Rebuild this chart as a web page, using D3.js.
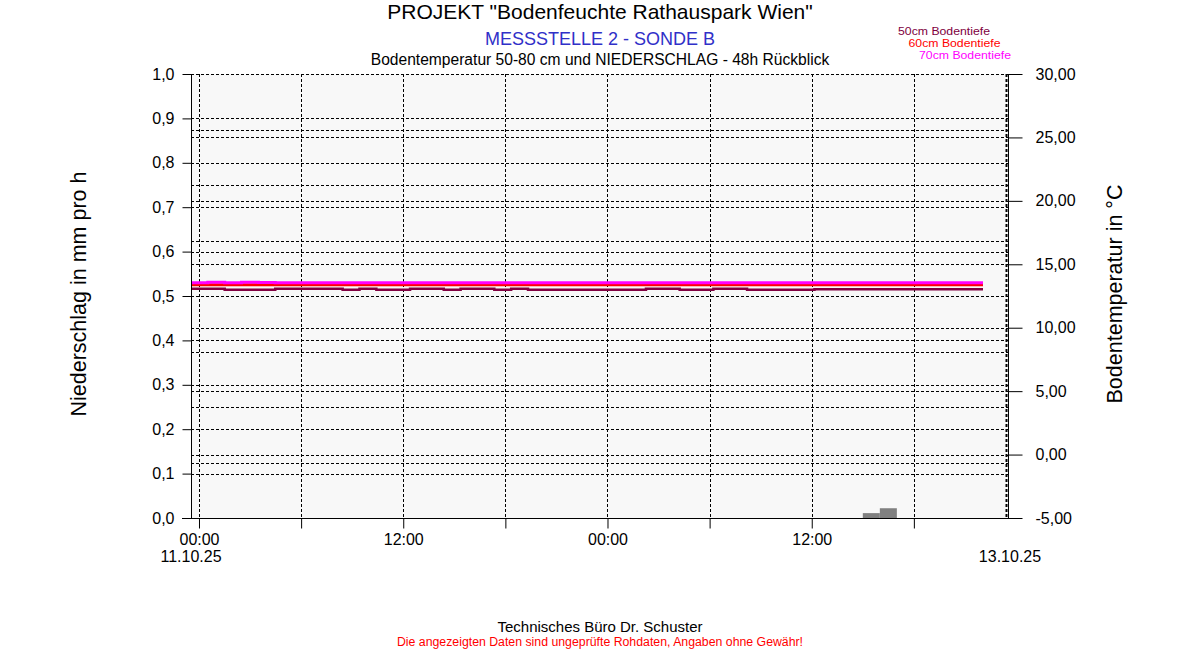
<!DOCTYPE html>
<html><head><meta charset="utf-8">
<script src="https://cdn.jsdelivr.net/npm/d3@7"></script>
<style>body{margin:0;background:#fff;}svg{display:block;font-family:"Liberation Sans",Arial,sans-serif;}</style>
</head><body><svg id="c" width="1200" height="650"></svg>
<script>
// ---- data ----
const titleMain = 'PROJEKT "Bodenfeuchte Rathauspark Wien"';
const titleSub = "MESSSTELLE 2 - SONDE B";
const titleDesc = "Bodentemperatur 50-80 cm und NIEDERSCHLAG - 48h Rückblick";
const seriesNames = ["50cm Bodentiefe", "60cm Bodentiefe", "70cm Bodentiefe"];
const seriesColors = ["#800040", "#ff0000", "#ff00ff"];
const leftTicks = [0,0.1,0.2,0.3,0.4,0.5,0.6,0.7,0.8,0.9,1.0];
const rightTicks = [-5,0,5,10,15,20,25,30];
const extraGrid = [0,1,2,3,4,5,6,7,8]; // hidden third scale with 8 divisions
const xTickHours = [0,6,12,18,24,30,36,42];
const xTickLabels = {0:"00:00",12:"12:00",24:"00:00",36:"12:00"};
// hourly temperature readings, starting at 23:32 on 10.10.25 (hour -0.47)
const temp50 = [13.08,13.08,13.0,13.0,13.0,13.08,13.08,13.08,13.08,13.0,13.08,13.0,13.0,13.08,13.08,13.0,13.08,13.08,13.0,13.08,13.0,13.0,13.0,13.0,13.0,13.0,13.0,13.08,13.08,13.0,13.0,13.08,13.08,13.0,13.0,13.0,13.0,13.03,13.03,13.03,13.03,13.03,13.03,13.03,13.03,13.03,13.03,13.03];
const temp60 = [13.38,13.38,13.38,13.38,13.38,13.38,13.38,13.38,13.38,13.38,13.38,13.38,13.38,13.38,13.38,13.38,13.38,13.38,13.38,13.38,13.38,13.38,13.38,13.38,13.38,13.38,13.38,13.38,13.38,13.38,13.38,13.38,13.38,13.38,13.38,13.38,13.38,13.38,13.38,13.38,13.38,13.38,13.38,13.38,13.38,13.38,13.38,13.38];
const temp70 = [13.55,13.58,13.55,13.58,13.57,13.55,13.55,13.55,13.55,13.55,13.55,13.55,13.55,13.55,13.55,13.55,13.55,13.55,13.55,13.55,13.55,13.55,13.55,13.55,13.55,13.55,13.55,13.55,13.55,13.55,13.55,13.55,13.55,13.55,13.55,13.55,13.55,13.55,13.55,13.55,13.55,13.55,13.55,13.55,13.55,13.55,13.55,13.55];
const rainHours = [39, 40];
const rainValues = [0.011, 0.022];
const startHour = -0.47, endHour = 46.06;

// ---- layout ----
const L = 191, R = 1008, T = 74, B = 518;
const svg = d3.select("#c");
const x = d3.scaleLinear().domain([-0.47, 47.53]).range([L, R]);
const yL = d3.scaleLinear().domain([0, 1]).range([B, T]);
const yR = d3.scaleLinear().domain([-5, 30]).range([B, T]);
const yE = d3.scaleLinear().domain([0, 8]).range([B, T]);

svg.append("rect").attr("x", L).attr("y", T).attr("width", R - L).attr("height", B - T).attr("fill", "#f8f8f8");

// grid
const grid = svg.append("g").attr("stroke", "#000").attr("stroke-width", 1).attr("stroke-dasharray", "3,2");
const hline = yy => grid.append("line").attr("x1", L).attr("x2", R).attr("y1", Math.round(yy) + 0.5).attr("y2", Math.round(yy) + 0.5);
leftTicks.forEach(v => hline(yL(v)));
rightTicks.forEach(v => hline(yR(v)));
extraGrid.forEach(v => hline(yE(v)));
xTickHours.forEach(h => grid.append("line").attr("x1", Math.round(x(h)) + 0.5).attr("x2", Math.round(x(h)) + 0.5).attr("y1", T).attr("y2", B));
grid.append("line").attr("x1", R - 1.5).attr("x2", R - 1.5).attr("y1", T).attr("y2", B).attr("stroke-width", 2);

// rain bars
svg.append("g").selectAll("rect").data(rainHours).join("rect")
  .attr("x", d => x(d)).attr("width", d => x(d + 1) - x(d))
  .attr("y", (d, i) => yL(rainValues[i])).attr("height", (d, i) => B - yL(rainValues[i]))
  .attr("fill", "#808080");

// temperature lines
const n = temp50.length;
const hourOf = i => startHour + i * (endHour - startHour) / (n - 1);
const line = d3.line().x((d, i) => x(hourOf(i))).y(d => yR(d)).curve(d3.curveStepAfter);
[[temp50, 0, 2.5], [temp60, 1, 3], [temp70, 2, 3]].forEach(([arr, k, w]) => {
  svg.append("path").datum(arr).attr("d", line).attr("fill", "none")
    .attr("stroke", seriesColors[k]).attr("stroke-width", w);
});

// axes
const fmt = (p) => d => d3.format("." + p + "f")(d).replace(".", ",").replace("−", "-");
const axL = d3.axisLeft(yL).tickValues(leftTicks).tickSize(9).tickPadding(8).tickFormat(fmt(1));
const gL = svg.append("g").attr("transform", `translate(${L + 0.5},0)`).call(axL);
const axR = d3.axisRight(yR).tickValues(rightTicks).tickSize(14).tickPadding(13).tickFormat(fmt(2));
const gR = svg.append("g").attr("transform", `translate(${R + 0.5},0)`).call(axR);
const axB = d3.axisBottom(x).tickValues(xTickHours).tickSize(10).tickFormat(d => xTickLabels[d] || "");
const gB = svg.append("g").attr("transform", `translate(0,${B + 0.5})`).call(axB);
[gL, gR, gB].forEach(g => {
  g.selectAll("text").attr("font-size", 16).attr("fill", "#000").attr("font-family", '"Liberation Sans",Arial,sans-serif');
  g.selectAll("line").attr("stroke", "#000");
  g.select(".domain").remove();
});
gB.selectAll("text").attr("dy", "0.85em");
svg.append("line").attr("x1", 182).attr("x2", 1022).attr("y1", B + 0.5).attr("y2", B + 0.5).attr("stroke", "#000");
svg.append("line").attr("x1", L + 0.5).attr("x2", L + 0.5).attr("y1", T).attr("y2", B).attr("stroke", "#000");
svg.append("line").attr("x1", R + 0.5).attr("x2", R + 0.5).attr("y1", T).attr("y2", B).attr("stroke", "#000");

// date labels
svg.append("text").attr("x", x(0) - 8).attr("y", 562).attr("text-anchor", "middle").attr("font-size", 16).text("11.10.25");
svg.append("text").attr("x", R + 2).attr("y", 562).attr("text-anchor", "middle").attr("font-size", 16).text("13.10.25");

// titles
svg.append("text").attr("x", 600).attr("y", 19).attr("text-anchor", "middle").attr("font-size", 21).text(titleMain);
svg.append("text").attr("x", 600).attr("y", 45).attr("text-anchor", "middle").attr("font-size", 18).attr("fill", "#3030c8").text(titleSub);
svg.append("text").attr("x", 600).attr("y", 65).attr("text-anchor", "middle").attr("font-size", 15.6).text(titleDesc);

// axis titles
svg.append("text").attr("transform", "translate(86,294) rotate(-90)").attr("text-anchor", "middle").attr("font-size", 21.5).text("Niederschlag in mm pro h");
svg.append("text").attr("transform", "translate(1122,294) rotate(-90)").attr("text-anchor", "middle").attr("font-size", 21.5).text("Bodentemperatur in °C");

// legend
seriesNames.forEach((s, i) => {
  svg.append("text").attr("x", 898 + i * 10.5).attr("y", 35 + i * 11.8).attr("font-size", 10.2)
    .attr("textLength", 92).attr("lengthAdjust", "spacingAndGlyphs")
    .attr("fill", seriesColors[i]).text(s);
});

// footer
svg.append("text").attr("x", 600).attr("y", 632).attr("text-anchor", "middle").attr("font-size", 15).text("Technisches Büro Dr. Schuster");
svg.append("text").attr("x", 600).attr("y", 646).attr("text-anchor", "middle").attr("font-size", 12.3).attr("fill", "#ff0000").text("Die angezeigten Daten sind ungeprüfte Rohdaten, Angaben ohne Gewähr!");
</script></body></html>
